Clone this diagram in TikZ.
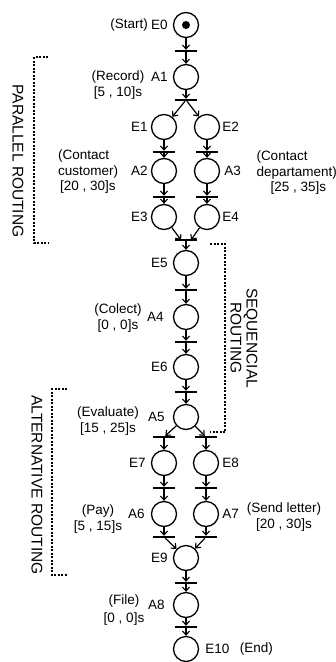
\documentclass[tikz,border=0pt]{standalone}
\usepackage{fontspec}
\setmainfont{Liberation Sans}
\usetikzlibrary{arrows.meta}
\begin{document}
\begin{tikzpicture}[x=1pt,y=-1pt,
  place/.style={circle,draw,line width=1.3pt,minimum size=25pt,inner sep=0pt},
  trans/.style={rectangle,fill=black,draw=none,minimum width=22pt,minimum height=2pt,inner sep=0pt},
  arc/.style={line width=1.2pt,-{Straight Barb[length=4pt,width=7pt,line width=1.1pt]}},
  txt/.style={font=\fontsize{13.5}{15.5}\selectfont,inner sep=0pt},
  rtxt/.style={font=\fontsize{15.5}{16}\selectfont,inner sep=0pt,rotate=-90},
  bracket/.style={line width=1.3pt,dash pattern=on 2pt off 1.5pt},
]
\useasboundingbox (0,0) rectangle (336,662);
% places and transitions
\node[place] (E0) at (186,25) {};
\fill (E0.center) circle[radius=4pt];
\node[trans] (T0) at (186,51) {};
\node[place] (A1) at (186,77) {};
\node[trans] (T1) at (186,100) {};
\node[place] (E1) at (164,127) {};
\node[place] (E2) at (207,127) {};
\node[trans] (T2a) at (164,152) {};
\node[trans] (T2b) at (207,152) {};
\node[place] (A2) at (164,171) {};
\node[place] (A3) at (207,171) {};
\node[trans] (T3a) at (164,197) {};
\node[trans] (T3b) at (207,197) {};
\node[place] (E3) at (164,217) {};
\node[place] (E4) at (207,217) {};
\node[trans] (T4) at (186,240) {};
\coordinate (T4l) at (181,240);
\coordinate (T4r) at (191,240);
\node[place] (E5) at (186,263) {};
\node[trans] (T5) at (186,290) {};
\node[place] (A4) at (186,317) {};
\node[trans] (T6) at (186,342) {};
\node[place] (E6) at (186,367) {};
\node[trans] (T7) at (186,392) {};
\node[place] (A5) at (186,417) {};
\node[trans] (T8a) at (164,437) {};
\node[trans] (T8b) at (206,437) {};
\node[place] (E7) at (164,463) {};
\node[place] (E8) at (206,463) {};
\node[trans] (T9a) at (164,488) {};
\node[trans] (T9b) at (206,488) {};
\node[place] (A6) at (164,514) {};
\node[place] (A7) at (206,514) {};
\node[trans] (T10a) at (164,537) {};
\node[trans] (T10b) at (206,537) {};
\node[place] (E9) at (186,558) {};
\node[trans] (T11) at (186,583) {};
\node[place] (A8) at (186,605) {};
\node[trans] (T12) at (186,627) {};
\node[place] (E10) at (186,649) {};
% arcs
\draw[arc] (E0) -- (T0);
\draw[arc] (T0) -- (A1);
\draw[arc] (A1) -- (T1);
\draw[arc] (T1) -- (E1);
\draw[arc] (T1) -- (E2);
\draw[arc] (E1) -- (T2a);
\draw[arc] (E2) -- (T2b);
\draw[arc] (T2a) -- (A2);
\draw[arc] (T2b) -- (A3);
\draw[arc] (A2) -- (T3a);
\draw[arc] (A3) -- (T3b);
\draw[arc] (T3a) -- (E3);
\draw[arc] (T3b) -- (E4);
\draw[arc] (E3) -- (T4l);
\draw[arc] (E4) -- (T4r);
\draw[arc] (T4) -- (E5);
\draw[arc] (E5) -- (T5);
\draw[arc] (T5) -- (A4);
\draw[arc] (A4) -- (T6);
\draw[arc] (T6) -- (E6);
\draw[arc] (E6) -- (T7);
\draw[arc] (T7) -- (A5);
\draw[arc] (A5) -- (T8a);
\draw[arc] (A5) -- (T8b);
\draw[arc] (T8a) -- (E7);
\draw[arc] (T8b) -- (E8);
\draw[arc] (E7) -- (T9a);
\draw[arc] (E8) -- (T9b);
\draw[arc] (T9a) -- (A6);
\draw[arc] (T9b) -- (A7);
\draw[arc] (A6) -- (T10a);
\draw[arc] (A7) -- (T10b);
\draw[arc] (T10a) -- (E9);
\draw[arc] (T10b) -- (E9);
\draw[arc] (E9) -- (T11);
\draw[arc] (T11) -- (A8);
\draw[arc] (A8) -- (T12);
\draw[arc] (T12) -- (E10);
% name labels
\node[txt,anchor=east] (lE0) at ([xshift=-5pt]E0.west) {E0};
\node[txt,anchor=east] (lA1) at ([xshift=-5pt]A1.west) {A1};
\node[txt,anchor=east] (lE1) at ([xshift=-3pt]E1.west) {E1};
\node[txt,anchor=west] (lE2) at ([xshift=2pt]E2.east) {E2};
\node[txt,anchor=east] (lA2) at ([xshift=-3pt]A2.west) {A2};
\node[txt,anchor=west] (lA3) at ([xshift=4pt]A3.east) {A3};
\node[txt,anchor=east] (lE3) at ([xshift=-3pt]E3.west) {E3};
\node[txt,anchor=west] (lE4) at ([xshift=2pt]E4.east) {E4};
\node[txt,anchor=east] (lE5) at ([xshift=-5pt]E5.west) {E5};
\node[txt,anchor=east] (lA4) at ([xshift=-9pt]A4.west) {A4};
\node[txt,anchor=east] (lE6) at ([xshift=-5pt]E6.west) {E6};
\node[txt,anchor=east] (lA5) at ([xshift=-8pt]A5.west) {A5};
\node[txt,anchor=east] (lE7) at ([xshift=-5pt]E7.west) {E7};
\node[txt,anchor=west] (lE8) at ([xshift=3pt]E8.east) {E8};
\node[txt,anchor=east] (lA6) at ([xshift=-6pt]A6.west) {A6};
\node[txt,anchor=west] (lA7) at ([xshift=3pt]A7.east) {A7};
\node[txt,anchor=east] (lE9) at ([xshift=-5pt]E9.west) {E9};
\node[txt,anchor=east] (lA8) at ([xshift=-8pt]A8.west) {A8};
\node[txt,anchor=west] (lE10) at ([xshift=6pt]E10.east) {E10};
% descriptions
\node[txt,anchor=east] (dE0) at (148,25) {(Start)};
\node[txt,anchor=east] (dE10) at (273,649) {(End)};
\node[txt,align=center] (dA1) at (118,85) {(Record)\\[0.5pt][5 , 10]s};
\node[txt,align=left,anchor=west] (dA2) at (58,172) {(Contact\\customer)\\\hspace*{2pt}[20 , 30]s};
\node[txt,align=left,anchor=east] (dA3) at (337,173) {(Contact\\departament)\\\hspace*{14pt}[25 , 35]s};
\node[txt,align=center] (dA4) at (118,318) {(Colect)\\[1pt][0 , 0]s};
\node[txt,align=center] (dA5) at (108,421) {(Evaluate)\\[0 pt][15 , 25]s};
\node[txt,align=center] (dA6) at (98,519) {(Pay)\\[0pt][5 , 15]s};
\node[txt,align=center] (dA7) at (284,517) {(Send letter)\\[1pt][20 , 30]s};
\node[txt,align=center] (dA8) at (124,610) {(File)\\[2pt][0 , 0]s};
% routing brackets
\draw[bracket] (48,57) -- (34,57) -- (34,243) -- (48,243);
\node[rtxt] (pr) at (18,161) {PARALLEL ROUTING};
\draw[bracket] (210,244) -- (225,244) -- (225,432) -- (210,432);
\node[rtxt,align=center] (sr) at (244,338) {SEQUENCIAL\\ROUTING};
\draw[bracket] (67,389) -- (52,389) -- (52,575) -- (67,575);
\node[rtxt] (ar) at (37,485) {ALTERNATIVE ROUTING};
\end{tikzpicture}
\end{document}
